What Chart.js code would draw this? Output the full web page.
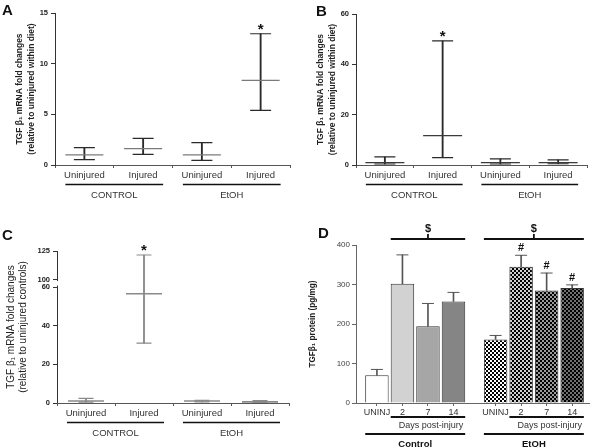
<!DOCTYPE html>
<html>
<head>
<meta charset="utf-8">
<script src="https://cdn.jsdelivr.net/npm/chart.js@4.4.0/dist/chart.umd.min.js"></script>
<style>
html, body { margin: 0; padding: 0; background: #fff; }
#page { position: relative; width: 600px; height: 448px; overflow: hidden; }
.panneau { position: absolute; width: 300px; height: 224px; }
.lettre { position: absolute; font: bold 15px "Liberation Sans", Arial, sans-serif; color: #111; }
</style>
</head>
<body>
<div id="page">
    <div class="panneau" style="left:0;top:0"><canvas id="chartA" width="300" height="224"></canvas></div>
    <div class="panneau" style="left:300px;top:0"><canvas id="chartB" width="300" height="224"></canvas></div>
    <div class="panneau" style="left:0;top:224px"><canvas id="chartC" width="300" height="224"></canvas></div>
    <div class="panneau" style="left:300px;top:224px"><canvas id="chartD" width="300" height="224"></canvas></div>
    <div class="lettre" style="left:2px;top:1px">A</div>
    <div class="lettre" style="left:316px;top:2px">B</div>
    <div class="lettre" style="left:2px;top:226px">C</div>
    <div class="lettre" style="left:318px;top:224px">D</div>
</div>
<script>
// categories
var groupes = ['CONTROL', 'EtOH'];
var conditions = ['Uninjured', 'Injured', 'Uninjured', 'Injured'];

// panel A : mRNA fold changes (relative to uninjured within diet)
var moyenneA = [1.0, 1.62, 1.0, 8.35];
var basA = [0.53, 1.05, 0.45, 5.4];
var hautA = [1.72, 2.62, 2.2, 12.95];
var etoilesA = [3];
var ticksA = [0, 5, 10, 15];

// panel B
var moyenneB = [0.95, 11.7, 0.95, 0.95];
var basB = [0.4, 2.9, 0.4, 0.5];
var hautB = [3.2, 49.3, 2.4, 2.0];
var etoilesB = [1];
var ticksB = [0, 20, 40, 60];

// panel C (broken axis 60 -> 100)
var moyenneC = [1.0, 56.5, 1.0, 0.6];
var basC = [0.5, 31, 0.6, 0.2];
var hautC = [2.4, 121.5, 1.4, 1.2];
var etoilesC = [1];
var ticksC = [0, 20, 40, 60, 100, 125];
var coupureC = [60, 100];

// panel D : TGFb1 protein (pg/mg)
var joursD = ['UNINJ', '2', '7', '14'];
var groupesD = ['Control', 'EtOH'];
var controleD = [70, 302, 194, 257];
var controleErrD = [15, 73, 58, 23];
var ethanolD = [161, 345, 285, 291];
var ethanolErrD = [10, 29, 44, 8];
var dieseD = [5, 6, 7];
var ticksD = [0, 100, 200, 300, 400];

var police = '"Liberation Sans", Arial, sans-serif';
Chart.defaults.font.family = police;
Chart.defaults.animation = false;
Chart.defaults.plugins.legend.display = false;
Chart.defaults.plugins.tooltip.enabled = false;

// echelle lineaire avec coupure
class EchelleCoupee extends Chart.LinearScale {
    buildTicks() {
        super.buildTicks();
        return ticksC.map(function(v) { return {value: v}; });
    }
    versDecimal(v) {
        var partBas = 0.763, partTrou = 0.049;
        if (v <= coupureC[0]) {
            return v / coupureC[0] * partBas;
        }
        if (v < coupureC[1]) {
            return partBas + (v - coupureC[0]) / (coupureC[1] - coupureC[0]) * partTrou;
        }
        return partBas + partTrou + (v - coupureC[1]) / (this.max - coupureC[1]) * (1 - partBas - partTrou);
    }
    getPixelForValue(v) {
        if (v === null || isNaN(v)) {
            return NaN;
        }
        return this.getPixelForDecimal(this.versDecimal(v));
    }
}
EchelleCoupee.id = 'coupee';
EchelleCoupee.defaults = {};
Chart.register(EchelleCoupee);

var pluginGroupes = {
    id: 'groupes',
    afterDraw: function(chart, args, opts) {
        if (!opts.actif) {
            return;
        }
        var ctx = chart.ctx,
            x = chart.scales.x,
            y = chart.scales.y,
            bas = chart.chartArea.bottom;

        ctx.save();
        groupes.forEach(function(nom, g) {
            var x1 = x.getPixelForValue(2 * g) - 19,
                x2 = x.getPixelForValue(2 * g + 1) + 20;
            ctx.strokeStyle = '#111';
            ctx.lineWidth = 1.6;
            ctx.beginPath();
            ctx.moveTo(x1, bas + opts.yTrait);
            ctx.lineTo(x2, bas + opts.yTrait);
            ctx.stroke();
            ctx.fillStyle = '#333';
            ctx.font = '9.5px ' + police;
            ctx.textAlign = 'center';
            ctx.textBaseline = 'middle';
            ctx.fillText(nom, (x1 + x2) / 2, bas + opts.yTexte);
        });

        ctx.font = 'bold 15px ' + police;
        ctx.fillStyle = '#111';
        ctx.textAlign = 'center';
        ctx.textBaseline = 'alphabetic';
        opts.etoiles.forEach(function(i) {
            ctx.fillText('*', x.getPixelForValue(i), y.getPixelForValue(opts.hauts[i]));
        });

        if (opts.coupure) {
            ctx.strokeStyle = '#333';
            ctx.lineWidth = 1;
            var xa = Math.round(chart.chartArea.left) + 0.5;
            ctx.beginPath();
            ctx.moveTo(xa, y.getPixelForValue(y.max));
            ctx.lineTo(xa, y.getPixelForValue(coupureC[1]) + 1.5);
            ctx.moveTo(xa, y.getPixelForValue(coupureC[0]) - 1.5);
            ctx.lineTo(xa, y.getPixelForValue(0));
            ctx.stroke();
        }
        ctx.restore();
    }
};

function graphiqueMoyennes(id, moyennes, bas, hauts, etoiles, reglages)
{
    return new Chart(document.getElementById(id), {
        type: 'bar',
        data: {
            labels: conditions,
            datasets: [
                {
                    label: 'moustache',
                    data: bas.map(function(b, i) { return [b, hauts[i]]; }),
                    backgroundColor: reglages.couleurMoustache,
                    barThickness: 1.2,
                    order: 3
                },
                {
                    type: 'line',
                    label: 'haut',
                    data: hauts,
                    showLine: false,
                    pointStyle: 'line',
                    pointRadius: reglages.rayonCapuchon,
                    pointBorderWidth: 1.2,
                    pointBorderColor: reglages.couleurMoustache,
                    order: 2
                },
                {
                    type: 'line',
                    label: 'bas',
                    data: bas,
                    showLine: false,
                    pointStyle: 'line',
                    pointRadius: reglages.rayonCapuchon,
                    pointBorderWidth: 1.2,
                    pointBorderColor: reglages.couleurMoustache,
                    order: 2
                },
                {
                    type: 'line',
                    label: 'moyenne',
                    data: moyennes,
                    showLine: false,
                    pointStyle: 'line',
                    pointRadius: reglages.rayonMoyenne,
                    pointBorderWidth: reglages.epaisseurMoyenne,
                    pointBorderColor: reglages.couleurMoyenne,
                    order: 1
                }
            ]
        },
        options: {
            responsive: false,
            layout: { autoPadding: false, padding: reglages.marges },
            plugins: {
                groupes: {
                    actif: true,
                    yTrait: 19.5,
                    yTexte: 30,
                    etoiles: etoiles,
                    hauts: hauts,
                    coupure: reglages.coupure
                }
            },
            scales: {
                x: {
                    grid: { display: true, drawOnChartArea: false, tickLength: 3, color: '#555' },
                    border: { color: '#555' },
                    ticks: { color: '#333', font: { size: 9.5 }, padding: 2, maxRotation: 0 },
                    afterFit: function(s) { s.height = reglages.hauteurX; }
                },
                y: {
                    type: reglages.typeY,
                    min: 0,
                    max: reglages.ticks[reglages.ticks.length - 1],
                    afterBuildTicks: function(s) {
                        s.ticks = reglages.ticks.map(function(v) { return {value: v}; });
                    },
                    grid: { display: true, drawOnChartArea: false, tickLength: 4, color: '#333' },
                    border: { display: !reglages.coupure, color: '#333' },
                    ticks: { color: '#222', font: { size: 7.5, weight: 'bold' }, padding: 3 },
                    title: {
                        display: true,
                        text: reglages.titreY,
                        color: '#222',
                        font: reglages.policeTitre,
                        padding: { top: reglages.decalTitre, bottom: 0 }
                    },
                    afterFit: function(s) { s.width = reglages.largeurY; }
                }
            }
        },
        plugins: [pluginGroupes]
    });
}

graphiqueMoyennes('chartA', moyenneA, basA, hautA, etoilesA, {
    ticks: ticksA,
    typeY: 'linear',
    couleurMoustache: '#2a2a2a',
    couleurMoyenne: '#7a7a7a',
    epaisseurMoyenne: 1.3,
    rayonMoyenne: 19,
    rayonCapuchon: 10.5,
    marges: { top: 13, right: 10, left: 0, bottom: 0 },
    hauteurX: 59,
    largeurY: 55,
    titreY: ['TGF \u03b2\u2081 mRNA fold changes', '(relative to uninjured within diet)'],
    policeTitre: { size: 8.5, weight: 'bold', lineHeight: 1.4 },
    decalTitre: 14,
    coupure: false
});

graphiqueMoyennes('chartB', moyenneB, basB, hautB, etoilesB, {
    ticks: ticksB,
    typeY: 'linear',
    couleurMoustache: '#2a2a2a',
    couleurMoyenne: '#3a3a3a',
    epaisseurMoyenne: 1.3,
    rayonMoyenne: 19.5,
    rayonCapuchon: 10.5,
    marges: { top: 14, right: 13, left: 0, bottom: 0 },
    hauteurX: 59,
    largeurY: 56,
    titreY: ['TGF \u03b2\u2081 mRNA fold changes', '(relative to uninjured within diet)'],
    policeTitre: { size: 8.5, weight: 'bold', lineHeight: 1.4 },
    decalTitre: 15,
    coupure: false
});

graphiqueMoyennes('chartC', moyenneC, basC, hautC, etoilesC, {
    ticks: ticksC,
    typeY: 'coupee',
    couleurMoustache: '#8a8a8a',
    couleurMoyenne: '#8a8a8a',
    epaisseurMoyenne: 1.6,
    rayonMoyenne: 18,
    rayonCapuchon: 7.5,
    marges: { top: 27, right: 11, left: 0, bottom: 0 },
    hauteurX: 45,
    largeurY: 57,
    titreY: ['TGF \u03b2\u2081 mRNA fold changes', '(relative to uninjured controls)'],
    policeTitre: { size: 10 },
    decalTitre: 5,
    coupure: true
});

// panel D
function damier(fond)
{
    var c = document.createElement('canvas'),
        x = c.getContext('2d');
    c.width = 4;
    c.height = 4;
    x.fillStyle = fond;
    x.fillRect(0, 0, 4, 4);
    x.fillStyle = '#000';
    x.fillRect(0, 0, 2, 2);
    x.fillRect(2, 2, 2, 2);
    return x.createPattern(c, 'repeat');
}

var ecartGroupes = 0.65;
var valeursD = controleD.concat(ethanolD);
var erreursD = controleErrD.concat(ethanolErrD);
var positionsD = valeursD.map(function(v, i) {
    return (i % joursD.length) + Math.floor(i / joursD.length) * (joursD.length + ecartGroupes);
});
var couleursD = ['#ffffff', '#d2d2d2', '#a6a6a6', '#858585',
    damier('#ffffff'), damier('#d0d0d0'), damier('#9a9a9a'), damier('#707070')];

var pluginD = {
    id: 'annotD',
    afterDraw: function(chart) {
        var ctx = chart.ctx,
            x = chart.scales.x,
            y = chart.scales.y,
            bas = chart.chartArea.bottom,
            demi = 11.7,
            n = joursD.length;

        ctx.save();
        ctx.textAlign = 'center';
        ctx.textBaseline = 'middle';

        // diese
        ctx.fillStyle = '#111';
        ctx.font = 'bold 11px ' + police;
        dieseD.forEach(function(i) {
            ctx.fillText('#', x.getPixelForValue(positionsD[i]), y.getPixelForValue(valeursD[i] + erreursD[i]) - 7);
        });

        groupesD.forEach(function(nom, g) {
            var premier = positionsD[g * n],
                dernier = positionsD[g * n + n - 1],
                xJ = x.getPixelForValue(positionsD[g * n + 1]) - demi,
                xG = x.getPixelForValue(premier) - demi,
                xD = x.getPixelForValue(dernier) + demi,
                haut = y.getPixelForValue(y.max) - 6,
                debutSigne = g === 0 ? xJ : xG,
                centre = (debutSigne + xD) / 2;

            ctx.strokeStyle = '#111';
            ctx.lineWidth = 1.8;
            // accolade $
            ctx.beginPath();
            ctx.moveTo(debutSigne, haut);
            ctx.lineTo(xD, haut);
            ctx.moveTo(centre, haut);
            ctx.lineTo(centre, haut - 5);
            ctx.stroke();
            ctx.font = 'bold 11px ' + police;
            ctx.fillStyle = '#111';
            ctx.fillText('$', centre, haut - 10);

            // jours post-blessure
            ctx.beginPath();
            ctx.moveTo(xJ, bas + 14);
            ctx.lineTo(xD, bas + 14);
            ctx.moveTo(xG, bas + 31);
            ctx.lineTo(xD, bas + 31);
            ctx.stroke();
            ctx.font = '9px ' + police;
            ctx.fillStyle = '#333';
            ctx.fillText('Days post-injury', (xJ + xD) / 2 + 3, bas + 23);
            ctx.font = 'bold 9.5px ' + police;
            ctx.fillStyle = '#111';
            ctx.fillText(nom, (xG + xD) / 2, bas + 41);
        });
        ctx.restore();
    }
};

new Chart(document.getElementById('chartD'), {
    type: 'bar',
    data: {
        datasets: [
            {
                label: 'moustache',
                data: positionsD.map(function(p, i) { return {x: p, y: [valeursD[i], valeursD[i] + erreursD[i]]}; }),
                backgroundColor: '#555',
                barThickness: 1,
                grouped: false,
                order: 2
            },
            {
                type: 'line',
                label: 'capuchon',
                data: positionsD.map(function(p, i) { return {x: p, y: valeursD[i] + erreursD[i]}; }),
                showLine: false,
                pointStyle: 'line',
                pointRadius: 6,
                pointBorderWidth: 1,
                pointBorderColor: '#555',
                order: 1
            },
            {
                label: 'TGF\u03b21 protein',
                data: positionsD.map(function(p, i) { return {x: p, y: valeursD[i]}; }),
                backgroundColor: couleursD,
                borderColor: '#333',
                borderWidth: 1,
                categoryPercentage: 1,
                barPercentage: 0.92,
                order: 3
            }
        ]
    },
    options: {
        responsive: false,
        layout: { autoPadding: false, padding: { top: 21, right: 11, left: 0, bottom: 0 } },
        scales: {
            x: {
                type: 'linear',
                offset: false,
                min: positionsD[0] - 0.82,
                max: positionsD[positionsD.length - 1] + 0.66,
                afterBuildTicks: function(s) {
                    s.ticks = positionsD.map(function(v) { return {value: v}; });
                },
                grid: { display: true, offset: false, drawOnChartArea: false, tickLength: 3, color: '#666' },
                border: { color: '#666' },
                ticks: {
                    autoSkip: false,
                    maxRotation: 0,
                    color: '#333',
                    font: { size: 9 },
                    padding: 1,
                    callback: function(v, i) { return joursD[i % joursD.length]; }
                },
                afterFit: function(s) { s.height = 45; }
            },
            y: {
                min: 0,
                max: ticksD[ticksD.length - 1],
                afterBuildTicks: function(s) {
                    s.ticks = ticksD.map(function(v) { return {value: v}; });
                },
                grid: { display: true, drawOnChartArea: false, tickLength: 4, color: '#666' },
                border: { color: '#666' },
                ticks: { color: '#444', font: { size: 8 }, padding: 2 },
                title: {
                    display: true,
                    text: 'TGF\u03b2\u2081 protein (pg/mg)',
                    color: '#222',
                    font: { size: 8.2, weight: 'bold' },
                    padding: { top: 8, bottom: 0 }
                },
                afterFit: function(s) { s.width = 56; }
            }
        }
    },
    plugins: [pluginD]
});
</script>
</body>
</html>
